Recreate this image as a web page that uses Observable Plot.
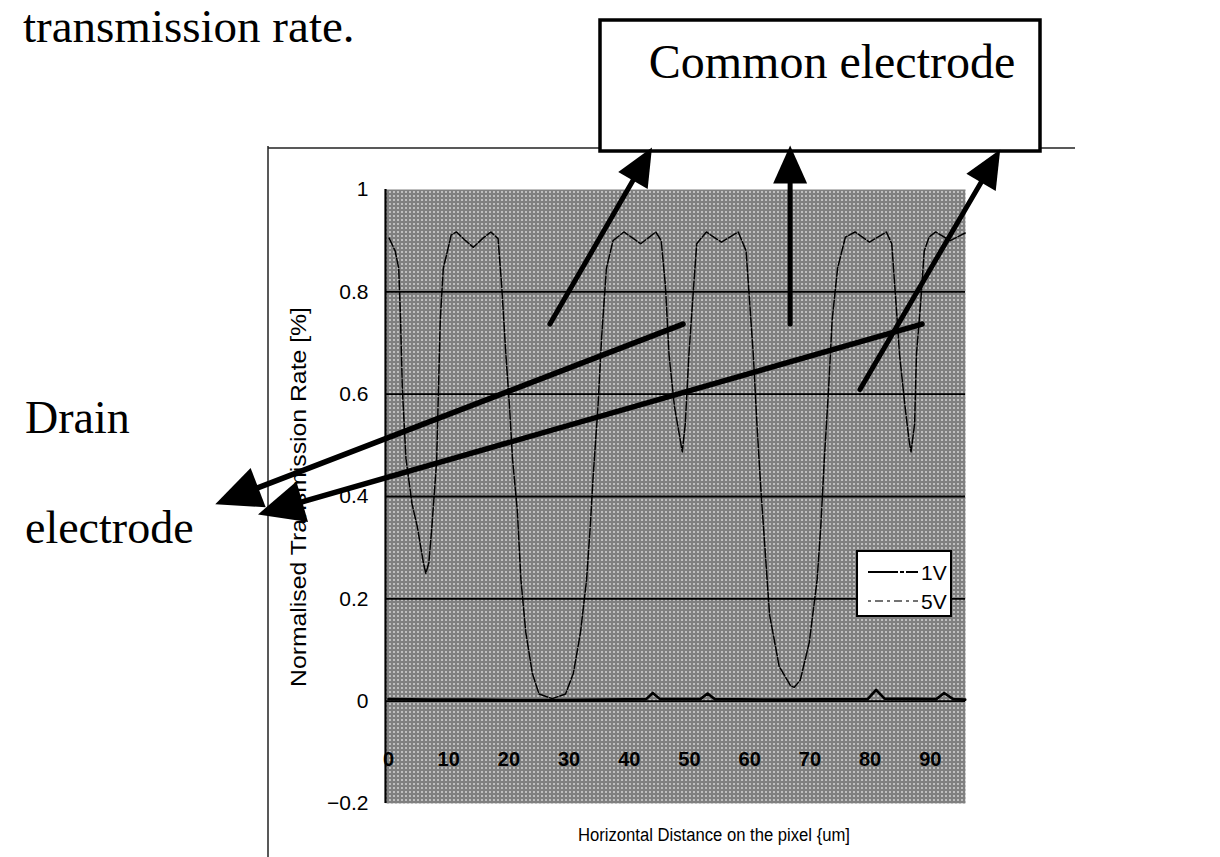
<!DOCTYPE html>
<html><head><meta charset="utf-8">
<script src="https://cdn.jsdelivr.net/npm/d3@7"></script>
<script src="https://cdn.jsdelivr.net/npm/@observablehq/plot@0.6"></script>
<style>
body{margin:0;background:#fff}
#chart{position:relative;width:1220px;height:857px;overflow:hidden}
#chart svg{position:absolute;left:0;top:0}
</style>
</head><body><div id="chart"></div>
<script>
// ---- data ----
const distance5V = [0.1,1.1,1.7,2.0,2.3,2.9,3.9,4.8,5.8,6.2,6.7,7.2,8.0,8.3,8.6,9.1,10.2,10.4,11.3,12.8,14.1,15.7,17.0,18.2,
18.8,19.5,20.1,20.6,21.4,22.0,22.8,23.9,25.0,27.2,29.4,30.7,31.9,32.9,33.5,34.0,34.8,35.4,36.2,37.3,
39.1,41.9,44.4,45.3,46.0,46.6,47.5,48.5,48.8,49.3,49.9,50.7,51.2,52.8,55.3,58.1,59.4,
60.0,60.6,61.2,61.9,62.5,63.3,64.9,66.8,67.4,68.4,69.9,71.2,71.8,72.4,73.1,73.7,74.6,75.9,
77.5,79.9,82.7,83.6,84.3,84.9,85.8,86.5,86.8,87.4,87.7,88.4,89.0,89.8,90.9,93.3,95.8];
const rate5V = [0.905,0.880,0.846,0.745,0.610,0.474,0.386,0.340,0.270,0.250,0.270,0.340,0.470,0.610,0.745,0.846,0.900,0.911,0.917,0.900,0.887,0.905,0.917,0.904,
0.812,0.677,0.576,0.474,0.372,0.237,0.135,0.054,0.014,0.005,0.014,0.054,0.135,0.237,0.339,0.440,0.576,0.711,0.846,0.900,
0.917,0.894,0.917,0.900,0.812,0.677,0.576,0.508,0.487,0.542,0.677,0.812,0.894,0.917,0.897,0.917,0.880,
0.779,0.677,0.542,0.406,0.305,0.169,0.068,0.030,0.027,0.041,0.115,0.237,0.339,0.474,0.609,0.745,0.846,0.907,
0.917,0.897,0.917,0.894,0.779,0.677,0.576,0.508,0.487,0.542,0.677,0.779,0.880,0.907,0.917,0.900,0.915];
const distance1V = [0,7,14,21,28,36,42.8,43.9,45.1,51.8,53.0,54.2,65,79.6,81.0,82.4,91.0,92.3,93.8,95.8];
const rate1V = [0.004,0.003,0.003,0.002,0.002,0.003,0.004,0.016,0.004,0.004,0.015,0.004,0.003,0.004,0.022,0.005,0.004,0.016,0.004,0.003];
const xTickValues = [0,10,20,30,40,50,60,70,80,90];
const yTickValues = [1,0.8,0.6,0.4,0.2,0,-0.2];
const yTickLabels = ["1","0.8","0.6","0.4","0.2","0","\u22120.2"];
const gridValues = [0.8,0.6,0.4,0.2,0];
const seriesNames = ["1V","5V"];
// callout arrows, in data units (distance, rate)
const commonArrows = [
  {x1:26.9, y1:0.736, x2:43.85, y2:1.081},
  {x1:66.8, y1:0.736, x2:66.8, y2:1.085},
  {x1:78.4, y1:0.608, x2:101.7, y2:1.077}
];
const drainArrows = [
  {x1:49.0, y1:0.736, x2:-28.7, y2:0.384},
  {x1:88.7, y1:0.736, x2:-21.6, y2:0.364}
];

const pts5V = distance5V.map((d,i)=>({x:d, y:rate5V[i]}));
const pts1V = distance1V.map((d,i)=>({x:d, y:rate1V[i]}));

const W = 1220, H = 857;
const chart = Plot.plot({
  width: W, height: H,
  marginLeft: 385, marginRight: 255, marginTop: 189, marginBottom: 54,
  style: {fontFamily: "'Liberation Sans', Arial, sans-serif", fontSize: "21px", background: "none", overflow: "visible", color: "#000"},
  x: {domain: [-0.5, 95.85], axis: null},
  y: {domain: [-0.2, 1], axis: null},
  marks: [
    Plot.frame({fill: "url(#dither)", stroke: null}),
    Plot.ruleY(gridValues, {stroke: "#000", strokeWidth: 1.8}),
    Plot.ruleX([-0.5], {stroke: "#000", strokeWidth: 2.2}),
    Plot.line(pts5V, {x: "x", y: "y", stroke: "#000", strokeWidth: 1.5, strokeDasharray: "9,2"}),
    Plot.line(pts1V, {x: "x", y: "y", stroke: "#000", strokeWidth: 2.6}),
    Plot.text(xTickValues, {x: d => d, y: -0.115, text: d => String(d), fontWeight: "bold", fontSize: 20, fill: "#000"}),
    Plot.text(yTickValues, {x: -0.5, y: d => d, dx: -17, text: (d,i) => yTickLabels[i], textAnchor: "end", fontSize: 21, fill: "#000"})
  ]
});
document.getElementById("chart").appendChild(chart);

const svg = d3.select(chart);
// scanned halftone texture of the plot area
const dots = [[0,0],[2,0],[1,1],[3,1],[0,2],[2,2],[3,3]];
svg.insert("defs", ":first-child").html(
  '<pattern id="dither" width="4" height="4" patternUnits="userSpaceOnUse">' +
  '<rect width="4" height="4" fill="#fff"/>' +
  dots.map(([a,b]) => `<rect x="${a}" y="${b}" width="1" height="1" fill="#000"/>`).join("") +
  '</pattern>');

const sx = chart.scale("x"), sy = chart.scale("y");
const X = v => sx.apply(v), Y = v => sy.apply(v);
const g = svg.append("g").attr("text-anchor", "start");
const SERIF = "'Liberation Serif', 'Times New Roman', serif";
const SANS = "'Liberation Sans', Arial, sans-serif";

// outer chart border (scanned frame)
g.append("line").attr("x1", 268).attr("y1", 146).attr("x2", 268).attr("y2", H).attr("stroke", "#222").attr("stroke-width", 1.5);
g.append("line").attr("x1", 268).attr("y1", 148).attr("x2", 1075).attr("y2", 148).attr("stroke", "#222").attr("stroke-width", 1.5);

// axis titles
g.append("text").attr("transform", "translate(300,497) rotate(-90)")
  .attr("text-anchor", "middle").attr("dominant-baseline", "middle")
  .attr("font-family", SANS).attr("font-size", 22)
  .attr("textLength", 380).attr("lengthAdjust", "spacingAndGlyphs")
  .text("Normalised Transmission Rate [%]");
g.append("text").attr("x", 714).attr("y", 841).attr("text-anchor", "middle")
  .attr("font-family", SANS).attr("font-size", 18)
  .attr("textLength", 272).attr("lengthAdjust", "spacingAndGlyphs")
  .text("Horizontal Distance on the pixel {um]");

// legend
const lg = g.append("g");
lg.append("rect").attr("x", 857).attr("y", 551).attr("width", 94).attr("height", 65)
  .attr("fill", "#fff").attr("stroke", "#000").attr("stroke-width", 2);
seriesNames.forEach((name, i) => {
  const yy = 572 + i * 29;
  lg.append("line").attr("x1", 868).attr("x2", 918).attr("y1", yy).attr("y2", yy)
    .attr("stroke", i ? "#444" : "#000").attr("stroke-width", i ? 1.3 : 2)
    .attr("stroke-dasharray", i ? "3,4,8,4" : "30,2,4,2");
  lg.append("text").attr("x", 921).attr("y", yy + 8).attr("font-family", SANS)
    .attr("font-size", 21).text(name);
});

// page text at the top
g.append("text").attr("x", 23).attr("y", 42).attr("font-family", SERIF)
  .attr("font-size", 47).text("transmission rate.");

// Common electrode box
g.append("rect").attr("x", 600).attr("y", 20).attr("width", 440).attr("height", 131)
  .attr("fill", "#fff").attr("stroke", "#000").attr("stroke-width", 3.5);
g.append("text").attr("x", 832).attr("y", 78).attr("text-anchor", "middle")
  .attr("font-family", SERIF).attr("font-size", 48)
  .text("Common electrode");

// Drain electrode text
g.append("text").attr("x", 25).attr("y", 433).attr("font-family", SERIF)
  .attr("font-size", 46).text("Drain");
g.append("text").attr("x", 25).attr("y", 543).attr("font-family", SERIF)
  .attr("font-size", 46).text("electrode");

function arrow(a, L, Wd, sw) {
  const x1 = X(a.x1), y1 = Y(a.y1), x2 = X(a.x2), y2 = Y(a.y2);
  const dx = x2 - x1, dy = y2 - y1, len = Math.hypot(dx, dy);
  const ux = dx / len, uy = dy / len, nx = -uy, ny = ux;
  const bx = x2 - ux * L, by = y2 - uy * L;
  g.append("line").attr("x1", x1).attr("y1", y1).attr("x2", bx + ux * 2).attr("y2", by + uy * 2)
    .attr("stroke", "#000").attr("stroke-width", sw).attr("stroke-linecap", "round");
  g.append("polygon").attr("points", [[x2, y2], [bx + nx * Wd, by + ny * Wd], [bx - nx * Wd, by - ny * Wd]].map(p => p.join(",")).join(" "))
    .attr("fill", "#000");
}
commonArrows.forEach(a => arrow(a, 38, 17, 5));
drainArrows.forEach(a => arrow(a, 46, 21, 5.5));
</script></body></html>
